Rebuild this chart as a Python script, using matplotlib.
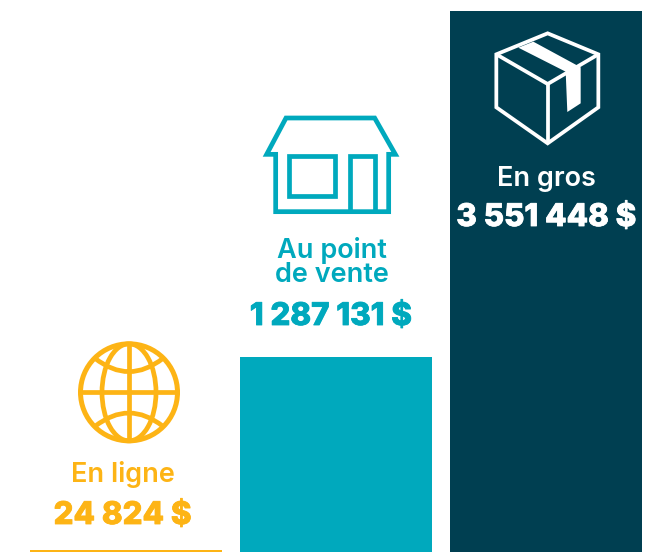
import matplotlib
matplotlib.use('Agg')
import matplotlib.pyplot as plt
import matplotlib.patheffects as pe
from matplotlib.patches import Circle, Ellipse, PathPatch, Polygon
from matplotlib.path import Path

plt.rcParams['font.family'] = ['Inter', 'DejaVu Sans']

labels = ['En ligne', 'Au point\nde vente', 'En gros']
values = [24824, 1287131, 3551448]
colors = ['#FDB415', '#00A9BD', '#003F51']

W, H = 649, 552
fig = plt.figure(figsize=(W / 100, H / 100), dpi=100)

# bars, on the real value scale. baseline sits a bit under the image edge
k = (357 - 11) / (values[2] - values[1])
ymin = values[0] - 2 / k
ax = fig.add_axes([0, 0, 1, 1])
ax.bar(range(3), values, width=192 / 210, color=colors)
ax.set_xlim(-126 / 210, (W - 126) / 210)
ax.set_ylim(ymin, ymin + H / k)
ax.axis('off')

# overlay in pixels for the icons and text
ov = fig.add_axes([0, 0, 1, 1])
ov.set_xlim(0, W)
ov.set_ylim(H, 0)
ov.axis('off')
ov.patch.set_alpha(0)


def z(pts, ox, oy):
    return [(ox + x / 3, oy + y / 3) for x, y in pts]


def outline(pts, color, lw, closed=False):
    ov.add_patch(Polygon(pts, closed=closed, fill=False, edgecolor=color, lw=lw, joinstyle='miter'))


# box
white = 'white'
outline(z([(293, 70), (445, 133), (445, 292), (293, 400), (139, 292), (139, 133)], 450, 10), white, 2.7, True)
outline(z([(139, 133), (293, 222), (445, 133)], 450, 10), white, 2.7)
outline(z([(293, 222), (293, 400)], 450, 10), white, 2.7)
ov.add_patch(Polygon(z([(205, 113), (250, 95), (392, 172), (392, 280), (352, 306), (347, 185)], 450, 10), color=white, lw=0))

# house
c = colors[1]
outline(z([(107, 163), (107, 335), (446, 335), (446, 163), (466, 163), (404, 54), (138, 54), (80, 163)], 240, 100), c, 3.4, True)
outline(z([(147, 167), (284, 167), (284, 287), (147, 287)], 240, 100), c, 3.4, True)
outline(z([(329, 335), (329, 167), (406, 167), (406, 335)], 240, 100), c, 3.4)

# globe
c = colors[0]
cx, cy = 20 + 327 / 3, 335 + 172 / 3
ov.add_patch(Circle((cx, cy), 48.5, fill=False, edgecolor=c, lw=3.6))
ov.add_patch(Ellipse((cx, cy), 54, 97, fill=False, edgecolor=c, lw=3.4))
ov.plot([cx, cx], [cy - 48, cy + 48], color=c, lw=3.4)
ov.plot([cx - 48, cx + 48], [cy, cy], color=c, lw=3.4)
for a, b in [((225, 70), (327, 150)), ((225, 274), (327, 194))]:
    p = z([a, b, (429, a[1])], 20, 335)
    ov.add_patch(PathPatch(Path(p, [Path.MOVETO, Path.CURVE3, Path.CURVE3]), fill=False, edgecolor=c, lw=3.4))


def money(v):
    return '{:,} $'.format(v).replace(',', ' ')


# text
name_pos = [(123, 482), (331.5, 282), (546.5, 186)]
value_pos = [(122.5, 524), (331, 325), (546.5, 226)]
text_cols = [colors[0], colors[1], white]
for i in range(3):
    ov.text(name_pos[i][0], name_pos[i][1], labels[i], ha='center', va='baseline', multialignment='center',
            color=text_cols[i], fontsize=19.5, fontweight='semibold', linespacing=0.92)
    t = ov.text(value_pos[i][0], value_pos[i][1], money(values[i]), ha='center', va='baseline',
                color=text_cols[i], fontsize=22.5, fontweight='heavy')
    t.set_path_effects([pe.withStroke(linewidth=0.6, foreground=text_cols[i])])

fig.savefig('out.png', dpi=100, facecolor='white')
